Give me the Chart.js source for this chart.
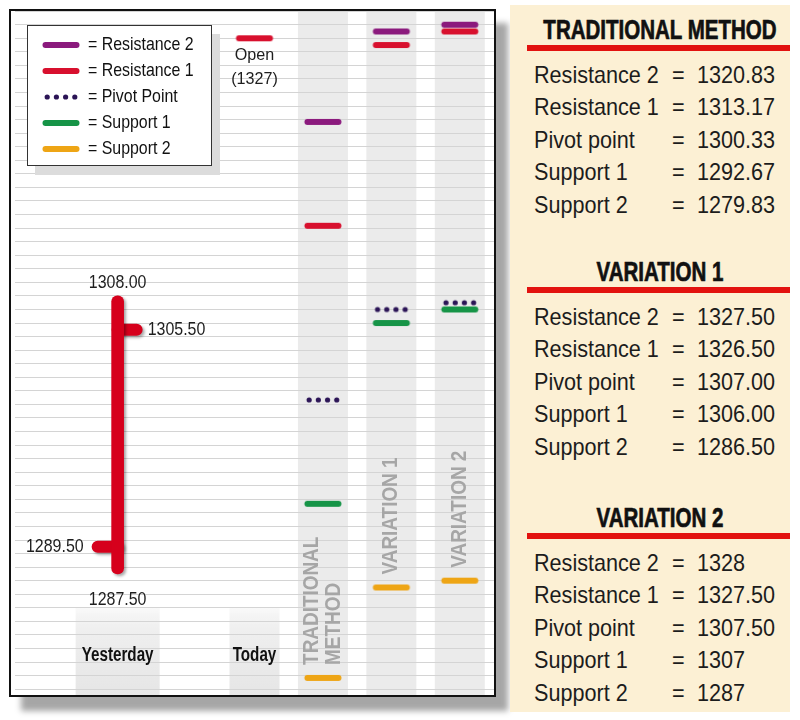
<!DOCTYPE html>
<html>
<head>
<meta charset="utf-8">
<title>Pivot points</title>
<script src="https://cdn.jsdelivr.net/npm/chart.js@4.4.1/dist/chart.umd.min.js"></script>
<style>
    html, body { margin: 0; padding: 0; background: #fff; }
    body { width: 800px; height: 720px; position: relative; overflow: hidden; font-family: "Liberation Sans", Arial, sans-serif; }
    #frame { position: absolute; left: 9px; top: 9px; width: 483px; height: 684px; border: 2px solid #111; background: #fff; box-shadow: 12px 14px 6px rgba(0,0,0,0.35); }
    #frame canvas { display: block; }
    #panel { position: absolute; left: 510px; top: 5px; width: 280px; height: 707px; background: #fcf0d4; }
    .section { position: absolute; left: 0; width: 280px; height: 230px; }
    .head { position: absolute; left: 150px; top: 0; white-space: nowrap; font: 900 27px/34px "Liberation Sans", Arial, sans-serif; color: #111; -webkit-text-stroke: 0.7px #111; transform: translateX(-50%) scaleX(0.76); }
    .rule { position: absolute; left: 17px; top: 32px; width: 263px; height: 6px; background: #e2120f; }
    .row { position: absolute; left: 0; width: 280px; height: 32px; font: 24px/32px "Liberation Sans", Arial, sans-serif; color: #1c1c1c; }
    .row span { position: absolute; top: 0; white-space: nowrap; transform-origin: 0 50%; transform: scaleX(0.9); }
    .lab { left: 24px; }
    .eq { left: 162px; }
    .val { left: 187px; }
</style>
</head>
<body>
<div id="frame"><canvas id="pivotChart" width="483" height="684"></canvas></div>
<div id="panel"></div>

<script>
// ---- data ----
const dayNames = ['Yesterday', 'Today'];
const methodNames = ['TRADITIONAL METHOD', 'VARIATION 1', 'VARIATION 2'];
const methodAxisLines = [['TRADITIONAL', 'METHOD'], ['VARIATION 1'], ['VARIATION 2']];
const slotLabels = ['', dayNames[0], '', dayNames[1], ...methodNames];

const levelNames = ['Resistance 2', 'Resistance 1', 'Pivot point', 'Support 1', 'Support 2'];
const legendNames = ['Resistance 2', 'Resistance 1', 'Pivot Point', 'Support 1', 'Support 2'];

const resistance2 = [1320.83, 1327.50, 1328.00];
const resistance1 = [1313.17, 1326.50, 1327.50];
const pivotPoint  = [1300.33, 1307.00, 1307.50];
const support1    = [1292.67, 1306.00, 1307.00];
const support2    = [1279.83, 1286.50, 1287.00];

const yesterdayOHLC = [1289.50, 1308.00, 1287.50, 1305.50]; // open, high, low, close
const todayOpen = 1327;

const wholeAsInteger = [false, false, true]; // variation 2 prints whole numbers bare

// ---- styles ----
const FONT = '"Liberation Sans", Arial, sans-serif';
const levelColors = ['#8b1a7d', '#d8102e', '#2b1456', '#169447', '#eea515'];
const barRed = '#d6001c';
const levels = [resistance2, resistance1, pivotPoint, support1, support2];

function makeMark(color, dotted) {
    const c = document.createElement('canvas');
    c.width = 40; c.height = 8;
    const g = c.getContext('2d');
    g.fillStyle = color; g.strokeStyle = color;
    if (dotted) {
        for (let i = 0; i < 4; i++) {
            g.beginPath(); g.arc(6.2 + i * 9.2, 4, 2.6, 0, Math.PI * 2); g.fill();
        }
    } else {
        g.lineCap = 'round'; g.lineWidth = 6;
        g.beginPath(); g.moveTo(4.5, 4); g.lineTo(35.5, 4); g.stroke();
    }
    return c;
}
const marks = levelColors.map((c, k) => makeMark(c, k === 2));

function toSlots(arr) {
    return slotLabels.map((l, i) => (i >= 4 ? arr[i - 4] : null));
}

function text(ctx, str, x, y, font, align, sx, color, rot) {
    ctx.save();
    ctx.translate(x, y);
    if (rot) ctx.rotate(rot);
    ctx.scale(sx, 1);
    ctx.font = font;
    ctx.fillStyle = color;
    ctx.textAlign = align;
    ctx.textBaseline = 'middle';
    ctx.fillText(str, 0, 0);
    ctx.restore();
}

const decor = {
    id: 'decor',
    beforeDraw(chart) {
        const { ctx, chartArea: a, scales: { x } } = chart;
        ctx.save();
        ctx.fillStyle = '#ebebeb';
        methodNames.forEach((m) => {
            const cx = x.getPixelForValue(slotLabels.indexOf(m));
            ctx.fillRect(cx - 25, a.top, 50, a.bottom - a.top);
        });
        [[dayNames[0], 42], [dayNames[1], 25]].forEach(([d, hw]) => {
            const cx = x.getPixelForValue(slotLabels.indexOf(d));
            const top = a.bottom - 88;
            const grad = ctx.createLinearGradient(0, top, 0, a.bottom);
            grad.addColorStop(0, 'rgba(236,236,236,0.3)');
            grad.addColorStop(0.25, '#efefef');
            grad.addColorStop(1, '#e6e6e6');
            ctx.fillStyle = grad;
            ctx.fillRect(cx - hw, top, hw * 2, a.bottom - top);
        });
        ctx.restore();
    },
    beforeDatasetDraw(chart, args) {
        if (args.meta.type !== 'bar') return;
        const { ctx, scales: { x, y } } = chart;
        ctx.save();
        ctx.shadowColor = 'rgba(0,0,0,0.35)';
        ctx.shadowOffsetX = 2; ctx.shadowOffsetY = 2; ctx.shadowBlur = 3;
        const bx = x.getPixelForValue(slotLabels.indexOf(dayNames[0]));
        ctx.strokeStyle = barRed; ctx.lineWidth = 12; ctx.lineCap = 'round';
        ctx.beginPath();
        ctx.moveTo(bx, y.getPixelForValue(yesterdayOHLC[3])); ctx.lineTo(bx + 19, y.getPixelForValue(yesterdayOHLC[3]));
        ctx.moveTo(bx, y.getPixelForValue(yesterdayOHLC[0])); ctx.lineTo(bx - 20, y.getPixelForValue(yesterdayOHLC[0]));
        ctx.stroke();
    },
    afterDatasetDraw(chart, args) {
        if (args.meta.type === 'bar') chart.ctx.restore();
    },
    afterDraw(chart) {
        const { ctx, chartArea: a, scales: { x, y } } = chart;
        const ink = '#1e1e1e';
        // yesterday OHLC labels
        const bx = x.getPixelForValue(slotLabels.indexOf(dayNames[0]));
        const f19 = '19px ' + FONT;
        text(ctx, yesterdayOHLC[1].toFixed(2), bx, y.getPixelForValue(yesterdayOHLC[1]) - 13, f19, 'center', 0.84, ink);
        text(ctx, yesterdayOHLC[3].toFixed(2), bx + 30, y.getPixelForValue(yesterdayOHLC[3]), f19, 'left', 0.84, ink);
        text(ctx, yesterdayOHLC[0].toFixed(2), bx - 34, y.getPixelForValue(yesterdayOHLC[0]), f19, 'right', 0.84, ink);
        text(ctx, yesterdayOHLC[2].toFixed(2), bx, y.getPixelForValue(yesterdayOHLC[2]) + 26, f19, 'center', 0.84, ink);

        // today open label
        const tx = x.getPixelForValue(slotLabels.indexOf(dayNames[1]));
        const oy = y.getPixelForValue(todayOpen);
        text(ctx, 'Open', tx, oy + 17, '17px ' + FONT, 'center', 0.95, ink);
        text(ctx, '(' + todayOpen + ')', tx, oy + 41, '17px ' + FONT, 'center', 0.95, ink);

        // day labels
        dayNames.forEach((d) => {
            text(ctx, d, x.getPixelForValue(slotLabels.indexOf(d)), a.bottom - 39, 'bold 19.5px ' + FONT, 'center', 0.78, '#111');
        });

        // rotated method labels, set just above each support 2 mark
        methodNames.forEach((m, k) => {
            const cx = x.getPixelForValue(slotLabels.indexOf(m));
            const base = y.getPixelForValue(support2[k]) - 13;
            const lines = methodAxisLines[k];
            lines.forEach((ln, i) => {
                const off = (i - (lines.length - 1) / 2) * 22;
                text(ctx, ln, cx + off, base, 'bold 22px ' + FONT, 'left', 0.86, '#a6a6a6', -Math.PI / 2);
            });
        });

        // legend box
        const lx = a.left + 12, ly = a.top + 14, lw = 185, lh = 141;
        ctx.save();
        ctx.fillStyle = '#dcdcdc';
        ctx.fillRect(lx + 8, ly + 9, lw, lh);
        ctx.fillStyle = '#fff';
        ctx.fillRect(lx, ly, lw, lh);
        ctx.strokeStyle = '#333'; ctx.lineWidth = 1;
        ctx.strokeRect(lx + 0.5, ly + 0.5, lw - 1, lh - 1);
        ctx.restore();
        legendNames.forEach((n, i) => {
            const ry = ly + 20 + i * 26;
            ctx.drawImage(marks[i], Math.round(lx + 33.5 - 20), Math.round(ry - 4));
            text(ctx, '= ' + n, lx + 61, ry, '18.5px ' + FONT, 'left', 0.86, '#111');
        });
    }
};

const datasets = levels.map((arr, k) => ({
    type: 'line',
    label: legendNames[k],
    data: toSlots(arr),
    showLine: false,
    pointStyle: marks[k],
    pointRadius: 4,
    order: k
}));
datasets.push({
    type: 'line',
    label: 'Open',
    data: slotLabels.map((l) => (l === dayNames[1] ? todayOpen : null)),
    showLine: false,
    pointStyle: marks[1],
    pointRadius: 4,
    order: 5
});
datasets.push({
    type: 'bar',
    label: dayNames[0],
    data: slotLabels.map((l) => (l === dayNames[0] ? [yesterdayOHLC[2], yesterdayOHLC[1]] : null)),
    backgroundColor: barRed,
    barThickness: 12,
    borderRadius: 6,
    borderSkipped: false,
    order: 10
});

new Chart(document.getElementById('pivotChart'), {
    type: 'bar',
    data: { labels: slotLabels, datasets },
    options: {
        responsive: false,
        animation: false,
        events: [],
        layout: { autoPadding: false, padding: { left: 4, right: 0, top: 0, bottom: 0 } },
        plugins: { legend: { display: false }, tooltip: { enabled: false } },
        scales: {
            x: { display: false, offset: true },
            y: {
                min: 1278.57,
                max: 1329.01,
                ticks: { display: false, stepSize: 1, includeBounds: false },
                grid: { color: '#d4d4d4', lineWidth: 1, drawTicks: false },
                border: { display: false }
            }
        }
    },
    plugins: [decor]
});

// ---- right hand table ----
const sectionTops = [8, 250, 496];
const fmt = (v, k) => (wholeAsInteger[k] && Number.isInteger(v) ? String(v) : v.toFixed(2));
const panel = document.getElementById('panel');
methodNames.forEach((name, k) => {
    const sec = document.createElement('div');
    sec.className = 'section';
    sec.style.top = sectionTops[k] + 'px';
    let html = `<div class="head">${name}</div><div class="rule"></div>`;
    levels.forEach((arr, r) => {
        html += `<div class="row" style="top:${46 + r * 32.4}px"><span class="lab">${levelNames[r]}</span><span class="eq">=</span><span class="val">${fmt(arr[k], k)}</span></div>`;
    });
    sec.innerHTML = html;
    panel.appendChild(sec);
});
</script>
</body>
</html>
